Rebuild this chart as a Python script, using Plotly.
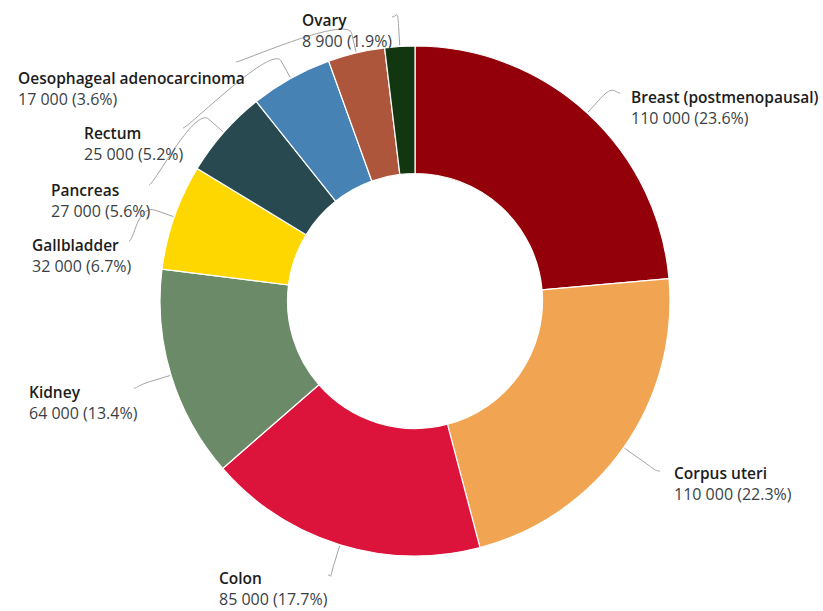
import math
import plotly.graph_objects as go

# Cancer sites (clockwise from 12 o'clock), case counts and shares of total
sites = [
    "Breast (postmenopausal)",
    "Corpus uteri",
    "Colon",
    "Kidney",
    "Gallbladder",
    "Pancreas",
    "Rectum",
    "Oesophageal adenocarcinoma",
    "Ovary",
]
cases = [110000, 110000, 85000, 64000, 32000, 27000, 25000, 17000, 8900]
shares = [23.6, 22.3, 17.7, 13.4, 6.7, 5.6, 5.2, 3.6, 1.9]

colors = ["#930009", "#F1A553", "#DC143C", "#6A8A68", "#FFD700",
          "#294951", "#4682B4", "#AD563C", "#12360F"]

W, H = 823, 611
CX, CY, R = 415, 301, 255  # donut centre and outer radius (px)

# Label layout in px: left edge of text, centre of the name line, connector anchor
label_left = [630, 673, 218, 28, 31, 50, 83, 17, 301]
label_mid = [97, 473, 578, 392, 245, 190, 133, 78, 20]
anchors = [(620, 93), (660, 471), (328, 575), (134, 388), (129, 241),
           (149, 185), (183, 128), (236, 62), (392, 17)]
LINE_GAP = 21


def px(x):
    return x / W


def py(y):
    return 1 - y / H


def fmt_count(n):
    return f"{n:,}".replace(",", " ")


fig = go.Figure()
fig.add_trace(go.Pie(
    labels=sites,
    values=shares,
    sort=False,
    direction="clockwise",
    rotation=0,
    hole=0.5,
    textinfo="none",
    hoverinfo="label+value",
    marker=dict(colors=colors, line=dict(color="white", width=1.2)),
    domain=dict(x=[px(CX - R), px(CX + R)], y=[py(CY + R), py(CY - R)]),
    showlegend=False,
))

annotations = []
shapes = []
total = sum(shares)
cum = 0.0
for i, site in enumerate(sites):
    # mid-angle of the slice, clockwise from the top
    mid = (cum + shares[i] / 2) / total * 2 * math.pi
    cum += shares[i]
    sx, sy = math.sin(mid), -math.cos(mid)
    touch = (CX + (R + 1) * sx, CY + (R + 1) * sy)
    brk = (CX + (R + 20) * sx, CY + (R + 20) * sy)
    ax, ay = anchors[i]
    side = 1 if sx >= 0 else -1
    c1 = (ax - 5 * side, ay)
    c2 = (2 * brk[0] - touch[0], 2 * brk[1] - touch[1])
    path = (f"M {px(ax)} {py(ay)} "
            f"C {px(c1[0])} {py(c1[1])} {px(c2[0])} {py(c2[1])} {px(brk[0])} {py(brk[1])} "
            f"L {px(touch[0])} {py(touch[1])}")
    shapes.append(dict(type="path", xref="paper", yref="paper", path=path,
                       line=dict(color="#a3a3a3", width=1)))

    annotations.append(dict(
        xref="paper", yref="paper", x=px(label_left[i]), y=py(label_mid[i]),
        xanchor="left", yanchor="middle", showarrow=False, borderpad=0,
        text=site,
        font=dict(family="Open Sans", size=15.5, color="#1c1c1c", weight=600),
    ))
    annotations.append(dict(
        xref="paper", yref="paper", x=px(label_left[i]), y=py(label_mid[i] + LINE_GAP),
        xanchor="left", yanchor="middle", showarrow=False, borderpad=0,
        text=f"{fmt_count(cases[i])} ({shares[i]:.1f}%)",
        font=dict(family="Open Sans", size=16, color="#3a3f46"),
    ))

fig.update_layout(
    width=W, height=H,
    margin=dict(l=0, r=0, t=0, b=0),
    paper_bgcolor="white",
    plot_bgcolor="white",
    annotations=annotations,
    shapes=shapes,
)

fig.write_html("out.html")
